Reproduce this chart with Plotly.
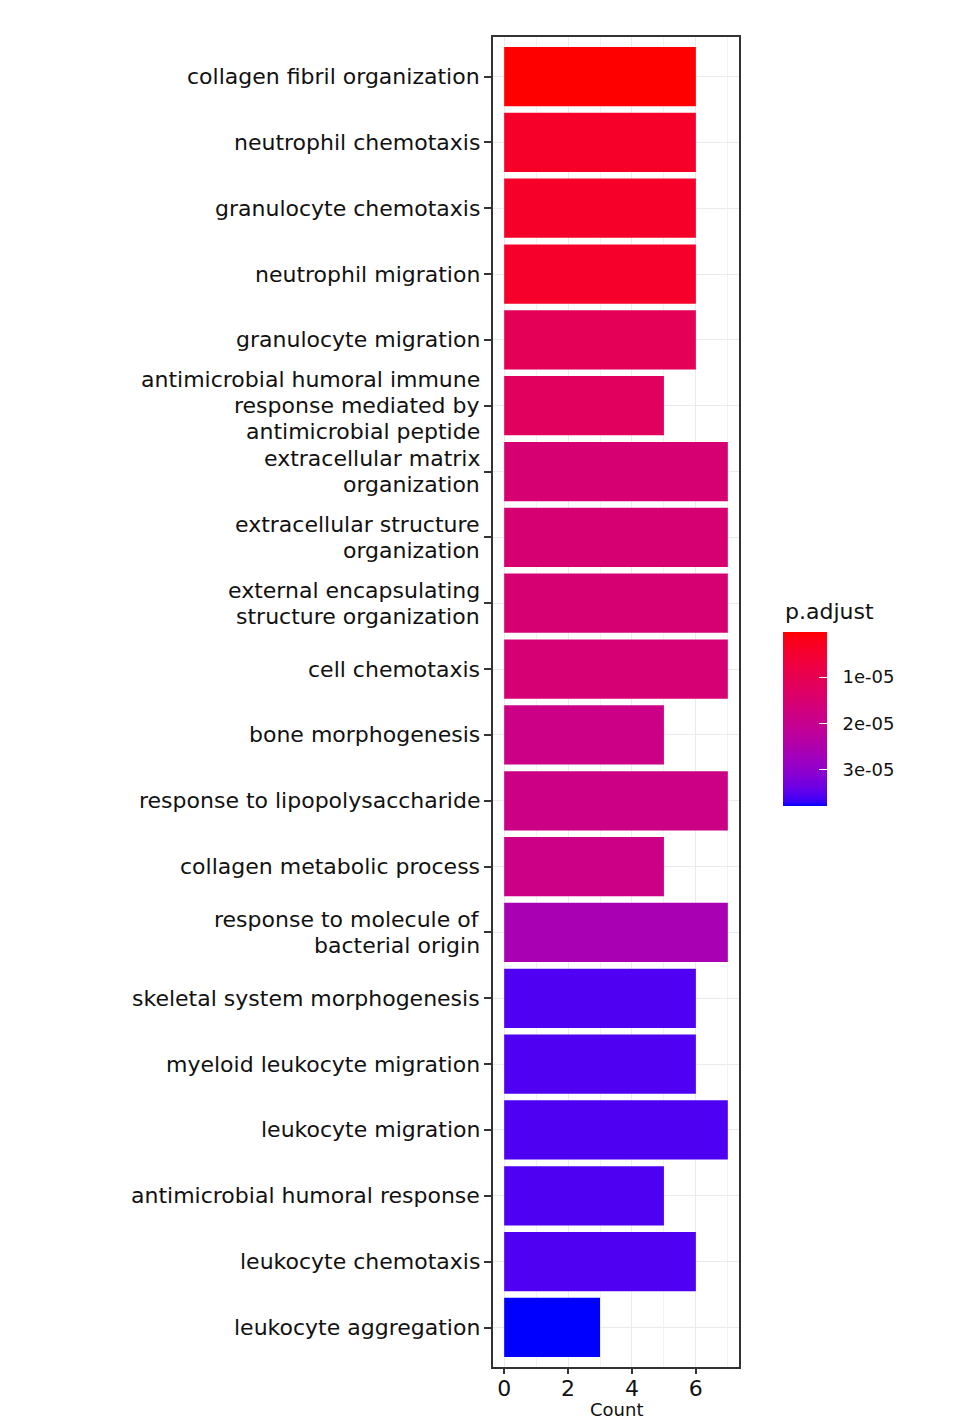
import plotly.graph_objects as go
import numpy as np

# ---------------- data (top to bottom) ----------------
terms = [
    "collagen fibril organization",
    "neutrophil chemotaxis",
    "granulocyte chemotaxis",
    "neutrophil migration",
    "granulocyte migration",
    "antimicrobial humoral immune<br>response mediated by<br>antimicrobial peptide",
    "extracellular matrix<br>organization",
    "extracellular structure<br>organization",
    "external encapsulating<br>structure organization",
    "cell chemotaxis",
    "bone morphogenesis",
    "response to lipopolysaccharide",
    "collagen metabolic process",
    "response to molecule of<br>bacterial origin",
    "skeletal system morphogenesis",
    "myeloid leukocyte migration",
    "leukocyte migration",
    "antimicrobial humoral response",
    "leukocyte chemotaxis",
    "leukocyte aggregation",
]
counts = [6, 6, 6, 6, 6, 5, 7, 7, 7, 7, 5, 7, 5, 7, 6, 6, 7, 5, 6, 3]
p_adjust = [2.8e-07, 4.0e-06, 4.1e-06, 4.2e-06, 1.1e-05, 1.2e-05,
            1.55e-05, 1.55e-05, 1.56e-05, 1.57e-05, 1.87e-05, 1.86e-05,
            1.87e-05, 2.6e-05, 3.58e-05, 3.58e-05, 3.59e-05, 3.59e-05,
            3.58e-05, 3.79e-05]
x_ticks = [0, 2, 4, 6]
cbar_ticks = [1e-05, 2e-05, 3e-05]
cbar_ticktext = ["1e-05", "2e-05", "3e-05"]
x_title = "Count"
legend_title = "p.adjust"


# ---------------- Lab colour ramp (like ggplot2's gradient) ----------------
def srgb_to_lab(rgb):
    c = np.array(rgb, dtype=float) / 255.0
    lin = np.where(c <= 0.04045, c / 12.92, ((c + 0.055) / 1.055) ** 2.4)
    M = np.array([[0.4124, 0.3576, 0.1805],
                  [0.2126, 0.7152, 0.0722],
                  [0.0193, 0.1192, 0.9505]])
    xyz = M @ lin
    xyz = xyz / np.array([0.95047, 1.0, 1.08883])
    f = np.where(xyz > 0.008856, np.cbrt(xyz), 7.787 * xyz + 16 / 116)
    return np.array([116 * f[1] - 16, 500 * (f[0] - f[1]), 200 * (f[1] - f[2])])


def lab_to_hex(lab):
    L, a, b = lab
    fy = (L + 16) / 116
    fx = fy + a / 500
    fz = fy - b / 200
    f = np.array([fx, fy, fz])
    xyz = np.where(f > 0.2069, f ** 3, (f - 16 / 116) / 7.787)
    xyz = xyz * np.array([0.95047, 1.0, 1.08883])
    Minv = np.array([[3.2406, -1.5372, -0.4986],
                     [-0.9689, 1.8758, 0.0415],
                     [0.0557, -0.2040, 1.0570]])
    lin = np.clip(Minv @ xyz, 0, 1)
    c = np.where(lin <= 0.0031308, 12.92 * lin, 1.055 * lin ** (1 / 2.4) - 0.055)
    c = np.clip(np.round(c * 255), 0, 255).astype(int)
    return "#%02x%02x%02x" % tuple(c)


lab_low = srgb_to_lab((255, 0, 0))
lab_high = srgb_to_lab((0, 0, 255))
n_stops = 41
# colour value is -p so that small p (red) sits at the top of the colour bar
colorscale = []
for i in range(n_stops):
    s = i / (n_stops - 1)          # 0 -> most negative (-pmax) -> blue
    t = 1 - s                      # t: 0 red ... 1 blue
    colorscale.append([s, lab_to_hex(lab_low + t * (lab_high - lab_low))])

neg_p = [-v for v in p_adjust]

FONT = "DejaVu Sans"
TXT = "#111111"
W, H = 946, 1413
ML, MR, MT, MB = 485, 215, 29, 54
PW, PH = W - ML - MR, H - MT - MB
NBSP = "\u00a0"

fig = go.Figure()
fig.add_trace(go.Bar(
    x=counts,
    y=terms,
    orientation="h",
    width=0.9,
    marker=dict(
        color=neg_p,
        colorscale=colorscale,
        cmin=min(neg_p),
        cmax=max(neg_p),
        line=dict(width=0),
        colorbar=dict(
            title=dict(text=""),
            tickvals=[-v for v in cbar_ticks],
            ticktext=[NBSP * 2 + s for s in cbar_ticktext],
            tickfont=dict(family=FONT, size=18, color=TXT),
            ticks="inside",
            ticklen=8,
            tickcolor="white",
            tickwidth=1,
            outlinewidth=0,
            thickness=44,
            lenmode="pixels",
            len=174,
            xref="container",
            yref="container",
            x=775 / W,
            xanchor="left",
            y=565 / H,
            yanchor="bottom",
            xpad=0,
            ypad=0,
        ),
    ),
    hoverinfo="skip",
    showlegend=False,
))

# y-axis labels drawn line by line (tight line spacing like the reference)
LINE = 26
LABEL_SIZE = 22
annotations = []
for term in terms:
    lines = term.split("<br>")
    n = len(lines)
    for j, line in enumerate(lines):
        annotations.append(dict(
            text=line,
            xref="paper", x=0, xanchor="right", xshift=-12,
            yref="y", y=term, yanchor="middle",
            yshift=((n - 1) / 2 - j) * LINE,
            showarrow=False,
            font=dict(family=FONT, size=LABEL_SIZE, color=TXT),
            align="right",
            borderpad=0,
        ))

# colour bar title
annotations.append(dict(
    text=legend_title,
    xref="paper", x=(775 - ML) / PW, xanchor="left",
    yref="paper", y=(H - MB - 603) / PH, yanchor="middle",
    showarrow=False,
    font=dict(family=FONT, size=22, color=TXT),
))

# x-axis title, kept at the very bottom edge
annotations.append(dict(
    text=x_title,
    xref="x domain", x=0.5, xanchor="center",
    yref="paper", y=0, yanchor="bottom", yshift=-MB,
    showarrow=False,
    borderpad=0,
    font=dict(family=FONT, size=18, color=TXT),
))

fig.update_layout(
    width=W,
    height=H,
    margin=dict(l=ML, r=MR, t=MT, b=MB),
    paper_bgcolor="white",
    plot_bgcolor="white",
    font=dict(family=FONT, color=TXT),
    annotations=annotations,
)

fig.update_xaxes(
    range=[-0.35, 7.35],
    tickvals=x_ticks,
    ticktext=[str(v) for v in x_ticks],
    tickfont=dict(family=FONT, size=22, color=TXT),
    ticks="outside",
    ticklen=5,
    ticklabelstandoff=-4,
    tickcolor="#333333",
    tickwidth=1.5,
    showgrid=True,
    gridcolor="#EBEBEB",
    gridwidth=1.2,
    minor=dict(dtick=1, tick0=0, showgrid=True, gridcolor="#F2F2F2", gridwidth=1),
    showline=True,
    linecolor="#333333",
    linewidth=1.5,
    mirror=True,
    zeroline=False,
    automargin=False,
)

fig.update_yaxes(
    categoryorder="array",
    categoryarray=terms,
    range=[len(terms) - 1 + 0.6, -0.6],
    showticklabels=False,
    ticks="outside",
    ticklen=7,
    tickcolor="#333333",
    tickwidth=1.5,
    showgrid=True,
    gridcolor="#EBEBEB",
    gridwidth=1.2,
    showline=True,
    linecolor="#333333",
    linewidth=1.5,
    mirror=True,
    zeroline=False,
    automargin=False,
)

fig.write_html("out.html")
